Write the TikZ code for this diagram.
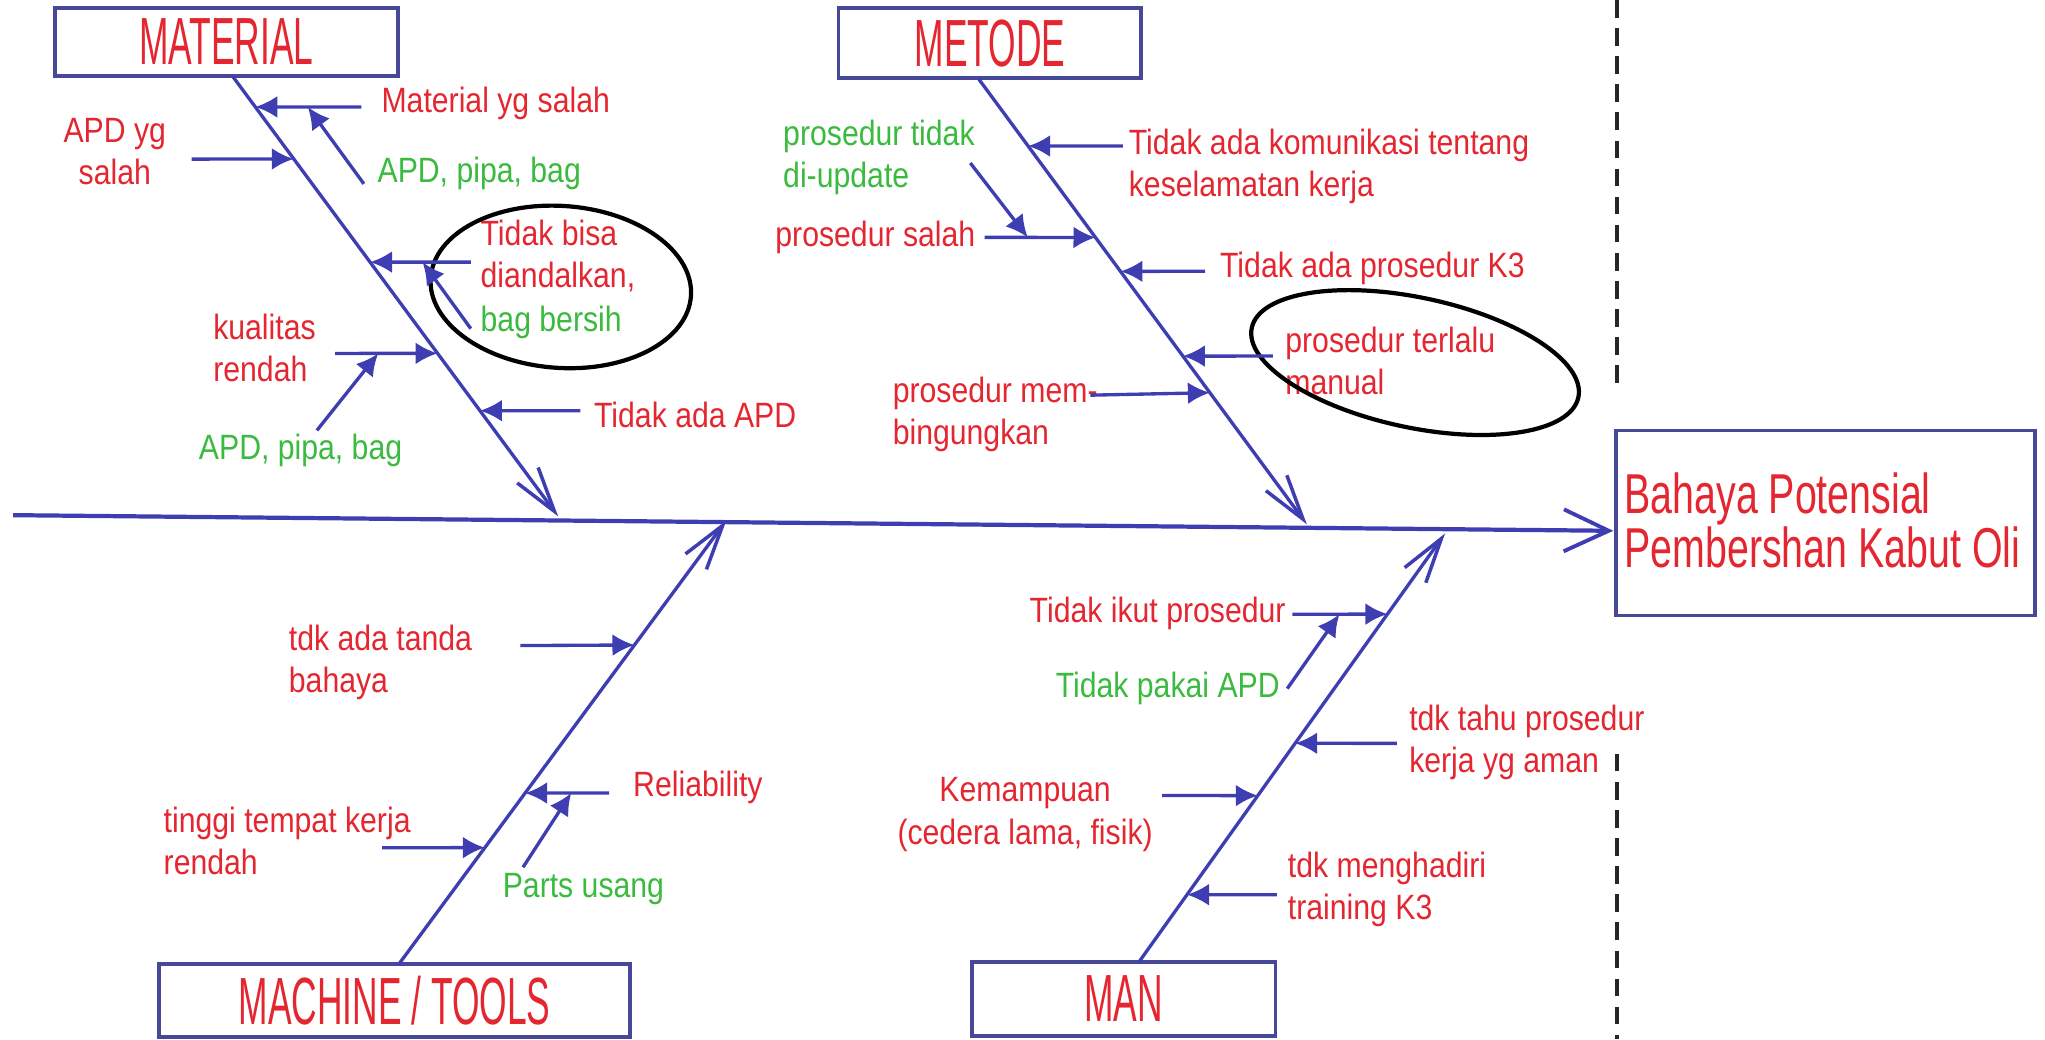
\documentclass[tikz,border=0pt]{standalone}
\usepackage{fontspec}
\setmainfont{Liberation Sans}
\newfontfamily\labelfont[FakeStretch=0.86]{Liberation Sans}
\newfontfamily\titlefont[FakeStretch=0.53]{Liberation Sans}
\newfontfamily\effectfont[FakeStretch=0.70]{Liberation Sans}
\usetikzlibrary{arrows.meta,calc,shapes.geometric}

\definecolor{lineblue}{RGB}{62,62,178}
\definecolor{boxblue}{RGB}{72,72,152}
\definecolor{causered}{RGB}{228,38,48}
\definecolor{causegreen}{RGB}{58,186,62}

\begin{document}
\begin{tikzpicture}[x=0.01304cm,y=-0.01304cm,
  catbox/.style={draw=boxblue,line width=1.1pt,inner sep=0pt,
    font=\titlefont\fontsize{19pt}{20pt}\selectfont,text=causered},
  spine/.style={draw=lineblue,line width=1.2pt,
    -{Straight Barb[length=4.5mm,width=4.2mm,line width=1.1pt]}},
  bone/.style={draw=lineblue,line width=0.95pt,
    -{Straight Barb[length=4.5mm,width=2.6mm,line width=1pt]}},
  sub/.style={draw=lineblue,line width=0.95pt,-{Latex[length=2.2mm,width=2.2mm]}},
  lbl/.style={font=\labelfont\fontsize{10pt}{12pt}\selectfont,inner sep=0pt,
    anchor=west,align=left,text=causered},
  gl/.style={lbl,text=causegreen},
  ring/.style={draw=black,line width=1.2pt,ellipse,inner sep=0pt}]

\useasboundingbox (0,0) rectangle (1568,797);

% ---------- effect box and dashed separators ----------
\node[draw=boxblue,line width=1.1pt,minimum width=4.19cm,minimum height=1.85cm,inner sep=0pt]
  (effect) at (1399.5,401) {};
\node[lbl,font=\effectfont\fontsize{16pt}{15.5pt}\selectfont] (effecttxt) at (1245,399)
  {Bahaya Potensial\\Pembershan Kabut Oli};

\coordinate (dashA) at (1240,0);
\coordinate (dashB) at (1240,300);
\coordinate (dashC) at (1240,578);
\coordinate (dashD) at (1240,797);
\draw[black!85,line width=1.2pt,dash pattern=on 5pt off 3pt] (dashA) -- (dashB);
\draw[black!85,line width=1.2pt,dash pattern=on 5pt off 3pt] (dashC) -- (dashD);

% ---------- spine ----------
\coordinate (spineL) at (10,395);
\coordinate (spineR) at (1237,407);
\draw[spine] (spineL) -- (spineR);

% ---------- category boxes ----------
\node[catbox,minimum width=3.43cm,minimum height=0.68cm] (material) at (173.5,32) {MATERIAL};
\node[catbox,minimum width=3.03cm,minimum height=0.70cm] (metode) at (759,33) {METODE};
\node[catbox,minimum width=4.71cm,minimum height=0.73cm] (machine) at (302.5,767) {MACHINE / TOOLS};
\node[catbox,minimum width=3.04cm,minimum height=0.74cm] (man) at (861.5,766) {MAN};

% ---------- bones ----------
\coordinate (matTop) at (178,58);
\coordinate (matTip) at (428,396);
\coordinate (metTop) at (750,60);
\coordinate (metTip) at (1002,402);
\coordinate (macBot) at (306,739);
\coordinate (macTip) at (557,399);
\coordinate (manBot) at (873,738);
\coordinate (manTip) at (1108,409);
\draw[bone] (matTop) -- (matTip);
\draw[bone] (metTop) -- (metTip);
\draw[bone] (macBot) -- (macTip);
\draw[bone] (manBot) -- (manTip);

% ---------- MATERIAL causes ----------
\node[lbl] (mat1) at (292,79) {Material yg salah};
\node[lbl,align=center,anchor=center] (mat2) at (88,116) {APD yg\\salah};
\node[gl] (mat3) at (289,133) {APD, pipa, bag};
\node[lbl] (mat4) at (368,196) {Tidak bisa\\diandalkan,};
\node[gl] (mat5) at (368,247) {bag bersih};
\node[lbl] (mat6) at (163,267) {kualitas\\rendah};
\node[gl] (mat7) at (152,345) {APD, pipa, bag};
\node[lbl] (mat8) at (455,318) {Tidak ada APD};
\node[ring,minimum width=2.61cm,minimum height=1.62cm,rotate=-4] (matring) at (430,220) {};

\coordinate (ma1) at (277,82);  \coordinate (mb1) at ($(matTop)!0.071!(matTip)$);
\coordinate (ma2) at (147,122); \coordinate (mb2) at ($(matTop)!0.189!(matTip)$);
\coordinate (ma3) at (361,201); \coordinate (mb3) at ($(matTop)!0.423!(matTip)$);
\coordinate (ma4) at (257,271); \coordinate (mb4) at ($(matTop)!0.630!(matTip)$);
\coordinate (ma5) at (445,315); \coordinate (mb5) at ($(matTop)!0.760!(matTip)$);
\draw[sub] (ma1) -- (mb1);
\draw[sub] (ma2) -- (mb2);
\draw[sub] (ma3) -- (mb3);
\draw[sub] (ma4) -- (mb4);
\draw[sub] (ma5) -- (mb5);
\coordinate (mg1) at (279,141); \coordinate (mh1) at (236,82);
\coordinate (mg2) at (361,252); \coordinate (mh2) at (324,201);
\coordinate (mg3) at (243,330); \coordinate (mh3) at (290,271);
\draw[sub] (mg1) -- (mh1);
\draw[sub] (mg2) -- (mh2);
\draw[sub] (mg3) -- (mh3);

% ---------- METODE causes ----------
\node[lbl] (met1) at (865,127.5) {Tidak ada komunikasi tentang\\keselamatan kerja};
\node[gl] (met2) at (600,120.5) {prosedur tidak\\di-update};
\node[lbl] (met3) at (594,182) {prosedur salah};
\node[lbl] (met4) at (935,206) {Tidak ada prosedur K3};
\node[lbl] (met5) at (985,277) {prosedur terlalu\\manual};
\node[lbl] (met6) at (684,318) {prosedur mem-\\bingungkan};
\node[ring,minimum width=3.34cm,minimum height=1.30cm,rotate=-12] (metring) at (1085,278) {};

\coordinate (ta1) at (861,112); \coordinate (tb1) at ($(metTop)!0.152!(metTip)$);
\coordinate (ta2) at (755,182); \coordinate (tb2) at ($(metTop)!0.357!(metTip)$);
\coordinate (ta3) at (924,208); \coordinate (tb3) at ($(metTop)!0.433!(metTip)$);
\coordinate (ta4) at (976,273); \coordinate (tb4) at ($(metTop)!0.623!(metTip)$);
\coordinate (ta5) at (836,303); \coordinate (tb5) at ($(metTop)!0.705!(metTip)$);
\draw[sub] (ta1) -- (tb1);
\draw[sub] (ta2) -- (tb2);
\draw[sub] (ta3) -- (tb3);
\draw[sub] (ta4) -- (tb4);
\draw[sub] (ta5) -- (tb5);
\coordinate (tg1) at (744,125); \coordinate (th1) at (788,182);
\draw[sub] (tg1) -- (th1);

% ---------- MACHINE / TOOLS causes ----------
\node[lbl] (mac1) at (221,508) {tdk ada tanda\\bahaya};
\node[lbl] (mac2) at (485,604) {Reliability};
\node[gl] (mac3) at (385,682) {Parts usang};
\node[lbl] (mac4) at (125,645) {tinggi tempat kerja\\rendah};

\coordinate (ca1) at (399,495); \coordinate (cb1) at ($(macBot)!0.719!(macTip)$);
\coordinate (ca2) at (467,608); \coordinate (cb2) at ($(macBot)!0.385!(macTip)$);
\coordinate (ca3) at (293,650); \coordinate (cb3) at ($(macBot)!0.262!(macTip)$);
\draw[sub] (ca1) -- (cb1);
\draw[sub] (ca2) -- (cb2);
\draw[sub] (ca3) -- (cb3);
\coordinate (cg1) at (401,665); \coordinate (ch1) at (438,608);
\draw[sub] (cg1) -- (ch1);

% ---------- MAN causes ----------
\node[lbl] (man1) at (789,470) {Tidak ikut prosedur};
\node[gl] (man2) at (809,528) {Tidak pakai APD};
\node[lbl] (man3) at (1080,569) {tdk tahu prosedur\\kerja yg aman};
\node[lbl,align=center,anchor=center] (man4) at (786,624.5) {Kemampuan\\(cedera lama, fisik)};
\node[lbl] (man5) at (987,682) {tdk menghadiri\\training K3};

\coordinate (na1) at (991,471);  \coordinate (nb1) at ($(manBot)!0.812!(manTip)$);
\coordinate (na2) at (1071,570); \coordinate (nb2) at ($(manBot)!0.511!(manTip)$);
\coordinate (na3) at (891,610);  \coordinate (nb3) at ($(manBot)!0.389!(manTip)$);
\coordinate (na4) at (979,686);  \coordinate (nb4) at ($(manBot)!0.158!(manTip)$);
\draw[sub] (na1) -- (nb1);
\draw[sub] (na2) -- (nb2);
\draw[sub] (na3) -- (nb3);
\draw[sub] (na4) -- (nb4);
\coordinate (ng1) at (987,528); \coordinate (nh1) at (1027,471);
\draw[sub] (ng1) -- (nh1);

\end{tikzpicture}
\end{document}
